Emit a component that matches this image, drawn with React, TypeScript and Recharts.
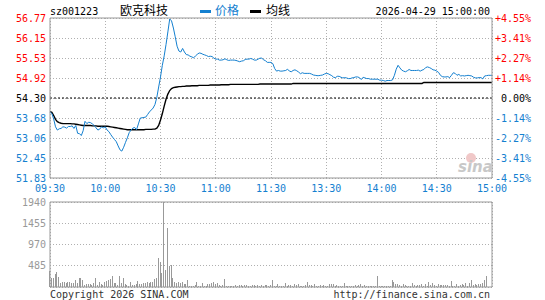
import React from 'react';
import { LineChart, Line, XAxis, YAxis, CartesianGrid, ReferenceLine, BarChart, Bar } from 'recharts';

// ---- data ----
const stockCode = 'sz001223';
const stockName = '欧克科技';
const dateTime = '2026-04-29 15:00:00';
const prevClose = 54.3;

const timeTicks = [0, 30, 60, 90, 120, 150, 180, 210, 240];
const timeLabels = ['09:30', '10:00', '10:30', '11:00', '11:30', '13:30', '14:00', '14:30', '15:00'];

const priceTicks = [51.83, 52.4475, 53.065, 53.6825, 54.3, 54.9175, 55.535, 56.1525, 56.77];
const priceTickLabels = ['51.83', '52.45', '53.06', '53.68', '54.30', '54.92', '55.53', '56.15', '56.77'];
const pctTickLabels = ['-4.55%', '-3.41%', '-2.27%', '-1.14%', '0.00%', '+1.14%', '+2.27%', '+3.41%', '+4.55%'];

const volumeTicks = [0, 485, 970, 1455, 1940];
const volumeTickLabels = ['', '485', '970', '1455', '1940'];

const price = [
  53.87, 53.82, 53.65, 53.41, 53.31, 53.35, 53.36, 53.41, 53.40, 53.37,
  53.42, 53.42, 53.44, 53.36, 53.45, 53.21, 53.20, 53.14, 53.29, 53.58,
  53.51, 53.55, 53.54, 53.50, 53.45, 53.38, 53.31, 53.34, 53.41, 53.38,
  53.41, 53.31, 53.26, 53.17, 53.09, 53.02, 52.95, 52.82, 52.70, 52.66,
  52.78, 52.93, 53.07, 53.23, 53.31, 53.37, 53.39, 53.32, 53.50, 53.68,
  53.69, 53.70, 53.71, 53.79, 53.87, 53.93, 53.99, 54.10, 54.32, 54.64,
  54.95, 55.31, 55.60, 55.95, 56.34, 56.74, 56.68, 56.46, 56.19, 55.90,
  55.75, 55.72, 55.83, 55.72, 55.64, 55.63, 55.59, 55.57, 55.54, 55.60,
  55.65, 55.69, 55.68, 55.65, 55.63, 55.61, 55.58, 55.59, 55.58, 55.53,
  55.50, 55.50, 55.47, 55.47, 55.48, 55.51, 55.48, 55.46, 55.47, 55.47,
  55.47, 55.46, 55.44, 55.42, 55.44, 55.45, 55.49, 55.50, 55.50, 55.52,
  55.50, 55.47, 55.47, 55.50, 55.53, 55.53, 55.48, 55.45, 55.40, 55.40,
  55.40, 55.36, 55.21, 55.13, 55.15, 55.13, 55.13, 55.14, 55.15, 55.19,
  55.13, 55.11, 55.15, 55.17, 55.14, 55.10, 55.05, 55.08, 55.06, 55.06,
  55.06, 55.06, 55.04, 55.01, 55.00, 54.99, 54.99, 55.00, 55.01, 55.04,
  55.06, 55.05, 55.02, 54.99, 54.94, 54.93, 54.97, 54.97, 54.94, 54.92,
  54.93, 54.92, 54.90, 54.90, 54.92, 54.93, 54.95, 54.95, 54.93, 54.87,
  54.94, 54.92, 54.90, 54.90, 54.88, 54.88, 54.88, 54.88, 54.88, 54.85,
  54.85, 54.84, 54.82, 54.84, 54.84, 54.84, 54.86, 55.00, 55.19, 55.31,
  55.23, 55.16, 55.13, 55.11, 55.14, 55.18, 55.15, 55.15, 55.15, 55.15,
  55.16, 55.13, 55.16, 55.18, 55.24, 55.26, 55.24, 55.21, 55.17, 55.16,
  55.13, 55.09, 55.00, 54.96, 54.95, 54.95, 54.96, 54.93, 55.00, 55.08,
  55.06, 55.00, 55.03, 54.98, 54.99, 54.98, 54.99, 55.00, 54.99, 54.98,
  54.94, 54.92, 54.92, 54.93, 54.93, 54.89, 54.98, 54.99, 55.00, 55.00,
  55.00,
];

const avgPrice = [
  53.88, 53.86, 53.76, 53.64, 53.57, 53.54, 53.52, 53.51, 53.51, 53.51,
  53.51, 53.51, 53.50, 53.50, 53.49, 53.48, 53.47, 53.46, 53.45, 53.45,
  53.45, 53.45, 53.45, 53.44, 53.44, 53.44, 53.43, 53.43, 53.43, 53.43,
  53.43, 53.43, 53.42, 53.41, 53.40, 53.39, 53.38, 53.37, 53.36, 53.35,
  53.34, 53.33, 53.32, 53.32, 53.32, 53.32, 53.32, 53.32, 53.32, 53.32,
  53.32, 53.32, 53.33, 53.33, 53.33, 53.33, 53.34, 53.34, 53.37, 53.45,
  53.62, 53.82, 54.05, 54.26, 54.42, 54.53, 54.59, 54.62, 54.63, 54.64,
  54.65, 54.65, 54.66, 54.66, 54.67, 54.67, 54.67, 54.68, 54.68, 54.68,
  54.68, 54.69, 54.69, 54.69, 54.69, 54.69, 54.69, 54.70, 54.70, 54.70,
  54.70, 54.70, 54.70, 54.71, 54.71, 54.71, 54.71, 54.71, 54.72, 54.72,
  54.72, 54.72, 54.72, 54.72, 54.72, 54.72, 54.72, 54.72, 54.72, 54.72,
  54.72, 54.72, 54.72, 54.72, 54.73, 54.73, 54.73, 54.73, 54.73, 54.73,
  54.73, 54.73, 54.73, 54.73, 54.73, 54.73, 54.73, 54.73, 54.73, 54.73,
  54.73, 54.73, 54.75, 54.75, 54.75, 54.75, 54.75, 54.75, 54.75, 54.75,
  54.75, 54.75, 54.75, 54.75, 54.75, 54.75, 54.75, 54.75, 54.75, 54.75,
  54.75, 54.75, 54.75, 54.75, 54.75, 54.75, 54.75, 54.75, 54.75, 54.75,
  54.75, 54.75, 54.75, 54.75, 54.75, 54.75, 54.75, 54.75, 54.75, 54.75,
  54.75, 54.75, 54.75, 54.75, 54.75, 54.75, 54.75, 54.75, 54.75, 54.75,
  54.75, 54.75, 54.75, 54.75, 54.75, 54.75, 54.75, 54.75, 54.75, 54.75,
  54.75, 54.75, 54.75, 54.75, 54.75, 54.75, 54.75, 54.75, 54.75, 54.75,
  54.75, 54.75, 54.75, 54.78, 54.78, 54.78, 54.78, 54.78, 54.78, 54.78,
  54.78, 54.78, 54.78, 54.78, 54.78, 54.78, 54.78, 54.78, 54.78, 54.78,
  54.78, 54.78, 54.78, 54.78, 54.78, 54.78, 54.78, 54.78, 54.78, 54.78,
  54.78, 54.78, 54.78, 54.78, 54.78, 54.78, 54.78, 54.78, 54.78, 54.78,
  54.78,
];

const volume = [
  370, 200, 195, 290, 340, 230, 95, 110, 120, 85,
  120, 105, 95, 80, 150, 85, 215, 200, 160, 45,
  62, 70, 70, 45, 85, 215, 45, 120, 62, 45,
  120, 140, 160, 175, 260, 100, 85, 45, 240, 85,
  215, 70, 45, 30, 120, 45, 45, 62, 140, 62,
  62, 85, 85, 110, 85, 120, 110, 185, 200, 670,
  560, 320, 1940, 380, 1350, 470, 505, 215, 120, 85,
  120, 85, 120, 62, 62, 160, 30, 30, 30, 45,
  110, 30, 30, 85, 30, 30, 62, 62, 85, 110,
  62, 85, 45, 30, 45, 185, 30, 30, 30, 30,
  30, 40, 25, 35, 45, 30, 50, 40, 30, 25,
  35, 45, 30, 40, 30, 35, 25, 40, 55, 30, 35,
  170, 30, 30, 62, 30, 30, 30, 100, 30, 45,
  45, 30, 62, 45, 77, 30, 30, 30, 40, 123,
  45, 45, 30, 62, 30, 30, 45, 30, 45, 30,
  30, 62, 77, 62, 30, 45, 30, 30, 30, 100,
  30, 30, 30, 30, 30, 45, 30, 45, 62, 30,
  45, 30, 30, 30, 30, 30, 30, 240, 30, 30,
  30, 30, 30, 30, 30, 162, 108, 77, 62, 45,
  30, 62, 45, 30, 30, 30, 100, 45, 30, 45,
  45, 62, 30, 62, 30, 123, 45, 85, 45, 30,
  62, 45, 45, 45, 45, 45, 30, 139, 30, 30,
  62, 30, 45, 62, 45, 100, 30, 85, 154, 45,
  62, 45, 62, 62, 100, 162, 240, 0, 0, 0,
];

const rows = price.map((p, i) => ({ m: i, price: p, avg: avgPrice[i], vol: volume[i] }));

// ---- styles ----
const MONO = '"DejaVu Sans Mono", "Liberation Mono", monospace';
const CJK = '"Noto Sans CJK SC", "Noto Sans", sans-serif';
const BLUE = '#1480d0';
const RED = '#ff0000';
const BORDER = '#999999';
const GRID = '#b0b0b0';

const idxOf = (arr: number[], v: number) => arr.findIndex((t) => Math.abs(t - v) < 1e-6);

const tickColor = (i: number) => (i < 4 ? BLUE : i === 4 ? '#000' : RED);

const PriceTick = (props: any) => {
  const i = idxOf(priceTicks, props.payload.value);
  return (
    <text x={props.x} y={props.y} dy={3.6} textAnchor="end" fontFamily={MONO} fontSize={10} fill={tickColor(i)}>
      {priceTickLabels[i]}
    </text>
  );
};

const PctTick = (props: any) => {
  const i = idxOf(priceTicks, props.payload.value);
  return (
    <text x={props.x + 36} y={props.y} dy={3.6} textAnchor="end" fontFamily={MONO} fontSize={10} fill={tickColor(i)}>
      {pctTickLabels[i]}
    </text>
  );
};

const TimeTick = (props: any) => {
  const i = timeTicks.indexOf(props.payload.value);
  return (
    <text x={props.x} y={props.y} dy={7.2} textAnchor="middle" fontFamily={MONO} fontSize={10} fill={BLUE}>
      {timeLabels[i]}
    </text>
  );
};

const VolTick = (props: any) => {
  const i = volumeTicks.indexOf(props.payload.value);
  return (
    <text x={props.x} y={props.y} dy={3.6} textAnchor="end" fontFamily={MONO} fontSize={10} fill="#999">
      {volumeTickLabels[i]}
    </text>
  );
};

export default function App() {
  return (
    <div style={{ position: 'absolute', left: 0, top: 0, width: 545, height: 300, background: '#fff', overflow: 'hidden' }}>
      <div style={{ position: 'absolute', left: 0, top: 0 }}>
        <LineChart width={545} height={200} data={rows} margin={{ top: 18, right: 0, bottom: 0, left: 0 }}>
          <CartesianGrid yAxisId="p" stroke={GRID} strokeDasharray="1 2" shapeRendering="crispEdges" />
          <XAxis
            dataKey="m"
            type="number"
            domain={[0, 240]}
            ticks={timeTicks}
            interval={0}
            tickSize={0}
            tickMargin={7}
            height={22}
            axisLine={{ stroke: BORDER }}
            tickLine={false}
            tick={TimeTick}
          />
          <YAxis
            yAxisId="p"
            type="number"
            domain={[priceTicks[0], priceTicks[8]]}
            allowDataOverflow
            ticks={priceTicks}
            interval={0}
            width={50}
            tickSize={0}
            tickMargin={4}
            tickLine={false}
            axisLine={{ stroke: BORDER }}
            tick={PriceTick}
          />
          <YAxis
            yAxisId="pct"
            orientation="right"
            type="number"
            domain={[priceTicks[0], priceTicks[8]]}
            allowDataOverflow
            ticks={priceTicks}
            interval={0}
            width={53}
            tickSize={0}
            tickMargin={3}
            tickLine={false}
            axisLine={{ stroke: BORDER }}
            tick={PctTick}
          />
          <ReferenceLine yAxisId="p" y={prevClose} stroke="#000" strokeDasharray="2 2" />
          <ReferenceLine yAxisId="p" y={priceTicks[8]} stroke={BORDER} />
          <Line yAxisId="p" dataKey="avg" stroke="#000" strokeWidth={1.4} dot={false} isAnimationActive={false} />
          <Line yAxisId="p" dataKey="price" stroke={BLUE} strokeWidth={1} dot={false} isAnimationActive={false} />
        </LineChart>
      </div>
      <div style={{ position: 'absolute', left: 0, top: 195 }}>
        <BarChart width={545} height={95} data={rows} margin={{ top: 7, right: 0, bottom: 2, left: 0 }}>
          <CartesianGrid yAxisId="v" stroke={GRID} strokeDasharray="1 2" shapeRendering="crispEdges" />
          <XAxis
            dataKey="m"
            type="number"
            domain={[0, 240]}
            ticks={timeTicks}
            interval={0}
            height={1}
            tick={false}
            tickLine={false}
            axisLine={{ stroke: BORDER }}
          />
          <YAxis
            yAxisId="v"
            type="number"
            domain={[0, 1940]}
            allowDataOverflow
            ticks={volumeTicks}
            interval={0}
            width={50}
            tickSize={0}
            tickMargin={4}
            tickLine={false}
            axisLine={{ stroke: BORDER }}
            tick={VolTick}
          />
          <YAxis
            yAxisId="vr"
            orientation="right"
            type="number"
            domain={[0, 1940]}
            width={53}
            tick={false}
            tickLine={false}
            axisLine={{ stroke: BORDER }}
          />
          <ReferenceLine yAxisId="v" y={1940} stroke={BORDER} />
          <Bar yAxisId="v" dataKey="vol" fill="#999" barSize={1} shapeRendering="crispEdges" isAnimationActive={false} />
        </BarChart>
      </div>
      <svg width={545} height={300} style={{ position: 'absolute', left: 0, top: 0, pointerEvents: 'none' }}>
        <text x={50} y={15} fontFamily={MONO} fontSize={10} fill="#000">{stockCode}</text>
        <text x={120} y={15} fontFamily={CJK} fontSize={12} fill="#000">{stockName}</text>
        <rect x={200} y={10} width={11} height={3} fill={BLUE} />
        <text x={215} y={15} fontFamily={CJK} fontSize={12} fill={BLUE}>价格</text>
        <rect x={250} y={10} width={11} height={3} fill="#000" />
        <text x={266} y={15} fontFamily={CJK} fontSize={12} fill="#000">均线</text>
        <text x={490} y={15} textAnchor="end" fontFamily={MONO} fontSize={10} fill="#000">{dateTime}</text>
        <circle cx={471} cy={158} r={5} fill="#f0c8c8" />
        <text x={458} y={172} fontFamily="'DejaVu Sans', sans-serif" fontSize={15} fontWeight="bold" fontStyle="italic" fill="#c8c8c8">sina</text>
        <text x={50} y={298} fontFamily={MONO} fontSize={10} fill="#333">Copyright 2026 SINA.COM</text>
        <text x={490} y={298} textAnchor="end" fontFamily={MONO} fontSize={10} fill="#333">http://finance.sina.com.cn</text>
      </svg>
    </div>
  );
}
